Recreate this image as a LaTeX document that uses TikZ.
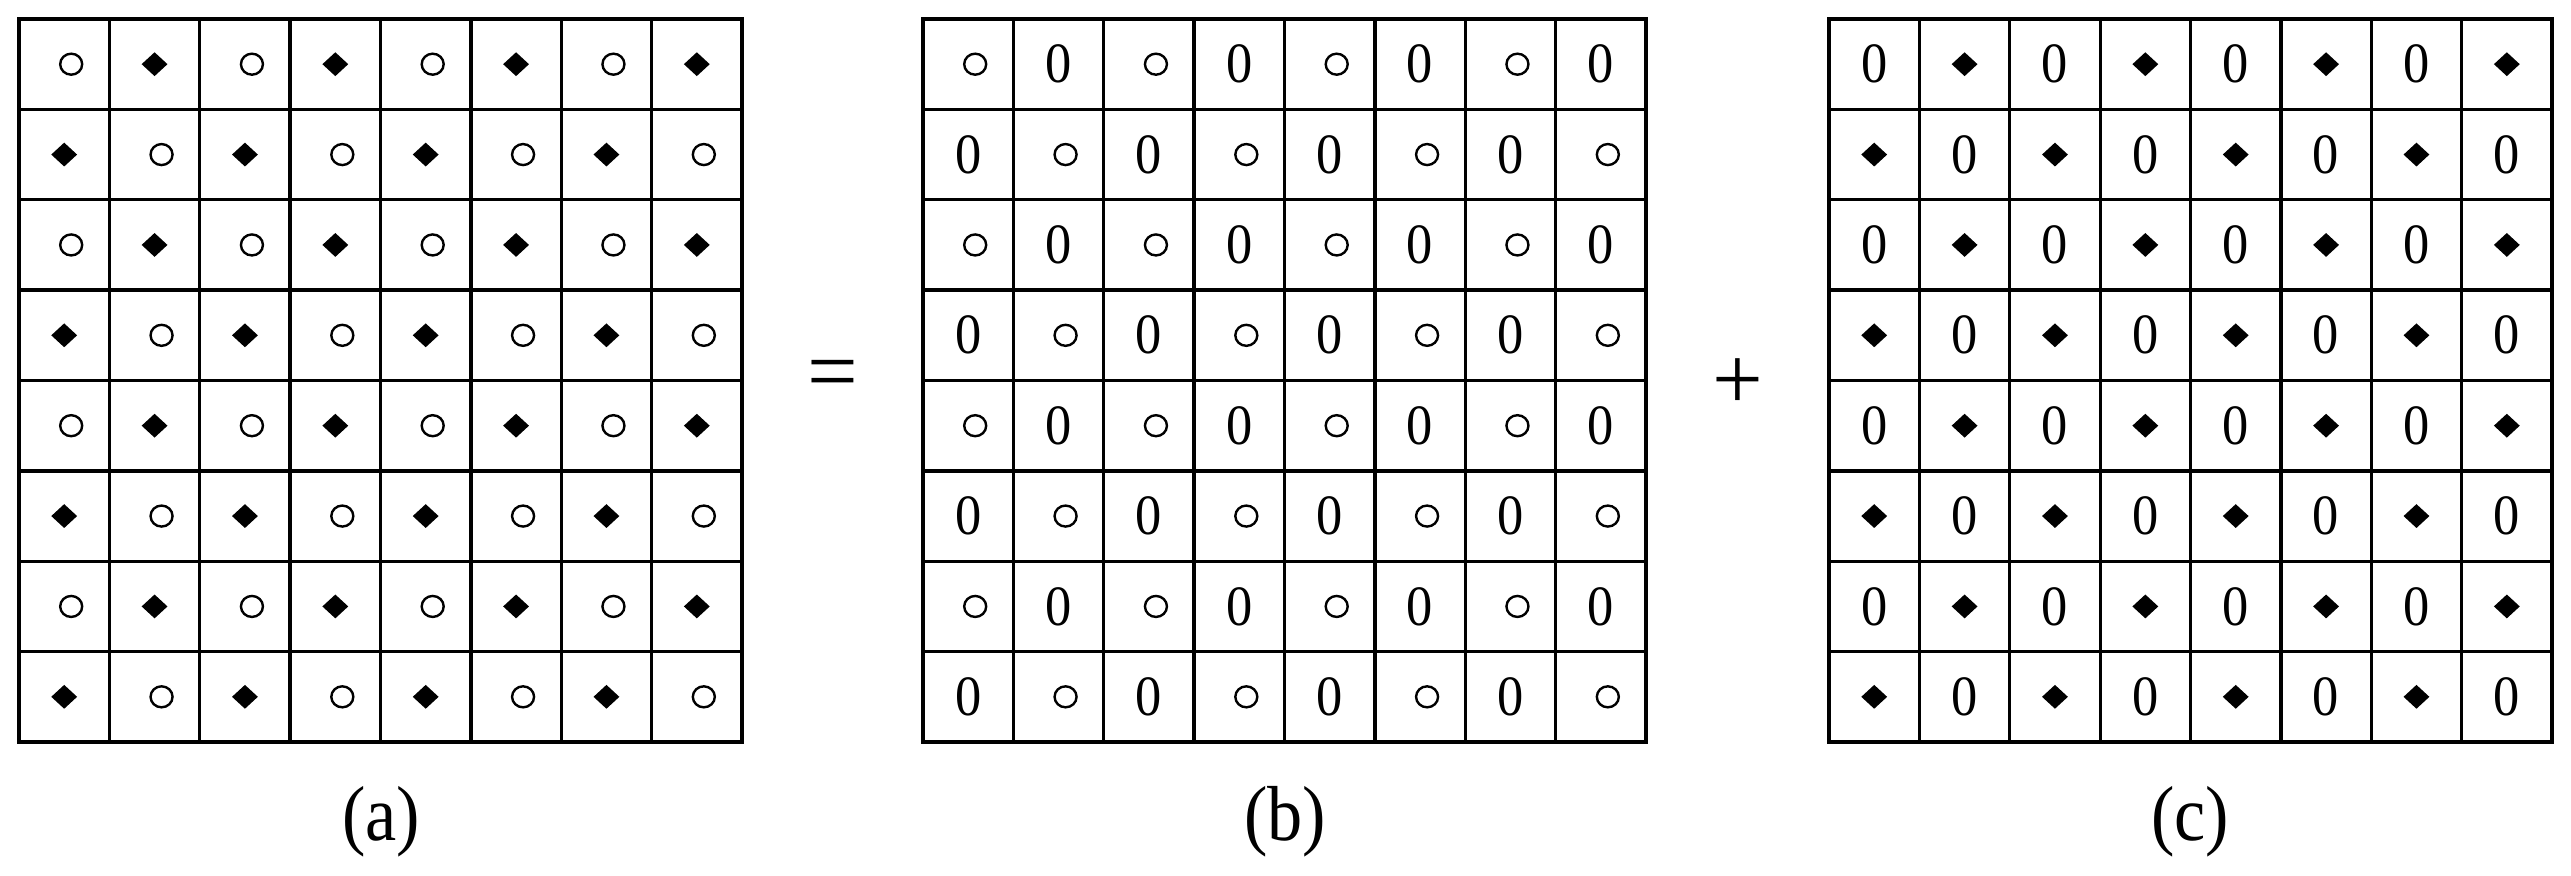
\documentclass[tikz,border=0pt]{standalone}
\usepackage{fontspec}
\setmainfont{Liberation Serif}
\usetikzlibrary{shapes.geometric}
\begin{document}
\begin{tikzpicture}[x=1pt,y=-1pt,
  gridline/.style={line width=3.3pt, line cap=rect},
  hollow/.style={ellipse, draw, line width=2.4pt, minimum width=22pt, minimum height=21pt, inner sep=0pt},
  solid/.style={diamond, fill=black, minimum width=26pt, minimum height=24pt, inner sep=0pt},
  zero/.style={font=\fontsize{57}{57}\selectfont, inner sep=0pt, xscale=0.92},
  caption/.style={font=\fontsize{78}{78}\selectfont, inner sep=0pt, xscale=0.9},
  opsign/.style={font=\fontsize{90}{90}\selectfont, inner sep=0pt}]
\useasboundingbox (0,0) rectangle (2571,875);
\def\cellsz{90.375}
% grids
\foreach \gx in {19,923,1829} {
  \foreach \k in {0,...,8} {
    \draw[gridline] ({\gx+\k*\cellsz},19) -- ({\gx+\k*\cellsz},742);
    \draw[gridline] (\gx,{19+\k*\cellsz}) -- ({\gx+723},{19+\k*\cellsz});
  }
}
% cell contents
\foreach \i in {0,...,7} {
  \foreach \j in {0,...,7} {
    \pgfmathtruncatemacro{\parity}{mod(\i+\j,2)}
    \pgfmathsetmacro{\cy}{19+(\i+0.5)*\cellsz}
    \ifnum\parity=0
      \node[hollow] (a-\i-\j) at ({19+(\j+0.5)*\cellsz+7},\cy) {};
      \node[hollow] (b-\i-\j) at ({923+(\j+0.5)*\cellsz+7},\cy) {};
      \node[zero] (c-\i-\j) at ({1829+(\j+0.5)*\cellsz},\cy) {0};
    \else
      \node[solid] (a-\i-\j) at ({19+(\j+0.5)*\cellsz},\cy) {};
      \node[zero] (b-\i-\j) at ({923+(\j+0.5)*\cellsz},\cy) {0};
      \node[solid] (c-\i-\j) at ({1829+(\j+0.5)*\cellsz},\cy) {};
    \fi
  }
}
% operators
\node[opsign] (eq) at (833,381) {=};
\node[opsign] (plus) at (1738,384) {+};
% captions
\node[caption] (capa) at (381,822) {(a)};
\node[caption] (capb) at (1285,822) {(b)};
\node[caption] (capc) at (2190,822) {(c)};
\end{tikzpicture}
\end{document}
